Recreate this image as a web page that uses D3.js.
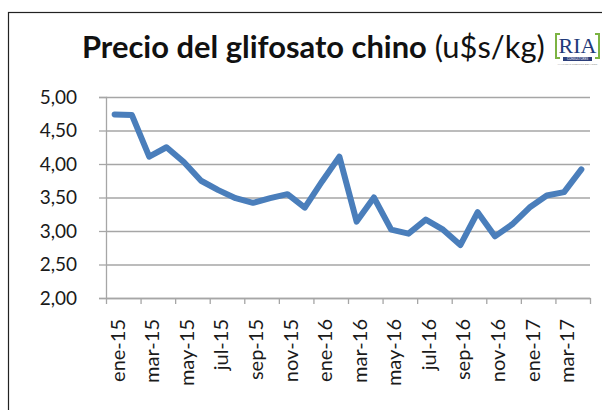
<!DOCTYPE html>
<html>
<head>
<meta charset="utf-8">
<script src="https://cdn.jsdelivr.net/npm/d3@7"></script>
<style>
  body { margin: 0; background: #fff; }
  svg { display: block; font-family: Lato, "Open Sans", sans-serif; }
</style>
</head>
<body>
<div id="chart"></div>
<script>
// Monthly price, ene-15 .. abr-17
const months = ["ene-15","feb-15","mar-15","abr-15","may-15","jun-15","jul-15","ago-15","sep-15","oct-15","nov-15","dic-15",
                "ene-16","feb-16","mar-16","abr-16","may-16","jun-16","jul-16","ago-16","sep-16","oct-16","nov-16","dic-16",
                "ene-17","feb-17","mar-17","abr-17"];
const prices = [4.74, 4.73, 4.11, 4.25, 4.03, 3.75, 3.61, 3.49, 3.42, 3.49, 3.55, 3.35,
                3.74, 4.11, 3.14, 3.50, 3.02, 2.96, 3.17, 3.02, 2.79, 3.28, 2.92, 3.10,
                3.35, 3.53, 3.58, 3.92];
const yTicks = [2.0, 2.5, 3.0, 3.5, 4.0, 4.5, 5.0];

const W = 602, H = 410;
const margin = {top: 97, right: 12, bottom: 112, left: 106};
const width = 590 - margin.left;
const height = 298 - margin.top;

const svg = d3.select("#chart").append("svg")
    .attr("width", W)
    .attr("height", H);

// chart frame (runs off the right/bottom of the picture)
svg.append("rect")
    .attr("x", 8.5).attr("y", 12.5)
    .attr("width", W + 20).attr("height", H + 20)
    .attr("fill", "none")
    .attr("stroke", "#222")
    .attr("stroke-width", 1.2);

// title
const title = svg.append("text")
    .attr("x", 82).attr("y", 58)
    .attr("fill", "#111")
    .style("font-family", "Lato, sans-serif")
    .style("font-size", "26px");
title.append("tspan").attr("font-weight", "bold").text("Precio del glifosato chino");
title.append("tspan").attr("font-weight", "normal").text(" (u$s/kg)");
// fit title width to ~463px
const tl = title.node().getComputedTextLength();
title.style("font-size", (26 * 463 / tl) + "px");

// logo
const logo = svg.append("g").attr("transform", "translate(555,33)");
logo.append("path")
    .attr("d", "M5,1 H1 V25 H5")
    .attr("fill", "none").attr("stroke", "#7cb342").attr("stroke-width", 2);
logo.append("path")
    .attr("d", "M40,1 H44 V25 H40")
    .attr("fill", "none").attr("stroke", "#7cb342").attr("stroke-width", 2);
logo.append("text")
    .attr("x", 22.5).attr("y", 20)
    .attr("text-anchor", "middle")
    .attr("fill", "#1f3a7a")
    .style("font-family", "'Liberation Serif', 'DejaVu Serif', serif")
    .style("font-size", "22px")
    .text("RIA");
logo.append("rect")
    .attr("x", 8).attr("y", 24).attr("width", 29).attr("height", 4)
    .attr("fill", "#2c3e7a");
logo.append("text")
    .attr("x", 22.5).attr("y", 27.3)
    .attr("text-anchor", "middle")
    .attr("fill", "#fff")
    .style("font-size", "3px")
    .text("CONSULTORES");
logo.append("text")
    .attr("x", 22.5).attr("y", 32)
    .attr("text-anchor", "middle")
    .attr("fill", "#888")
    .style("font-size", "2.6px")
    .text("ANALISTAS PUBLICOS DEL AGRO");

const g = svg.append("g")
    .attr("transform", `translate(${margin.left},${margin.top})`);

const x = d3.scaleBand()
    .domain(months)
    .range([0, width])
    .padding(0);

const xEdge = d3.scaleLinear()
    .domain([0, months.length])
    .range([0, width]);

const y = d3.scaleLinear()
    .domain([2, 5])
    .range([height, 0]);

// gridlines
g.append("g")
    .call(d3.axisRight(y).tickValues(yTicks).tickSize(width).tickFormat(""))
    .call(s => s.select(".domain").remove())
    .call(s => s.selectAll("line").attr("stroke", "#a6a6a6").attr("stroke-width", 1.3));

// y axis
const yAxis = g.append("g")
    .call(d3.axisLeft(y)
        .tickValues(yTicks)
        .tickSize(7)
        .tickPadding(22)
        .tickFormat(d => d3.format(".2f")(d).replace(".", ",")));
yAxis.select(".domain").attr("stroke", "#a6a6a6").attr("stroke-width", 1.3);
yAxis.selectAll("line").attr("stroke", "#a6a6a6").attr("stroke-width", 1.3);
yAxis.selectAll("text")
    .attr("fill", "#1a1a1a")
    .style("font-family", "Lato, sans-serif")
    .style("font-size", "19px");

// x axis (ticks between categories, every second one)
const xAxis = g.append("g")
    .attr("transform", `translate(0,${height})`)
    .call(d3.axisBottom(xEdge)
        .tickValues(d3.range(0, months.length + 1, 2))
        .tickSize(6)
        .tickSizeOuter(0)
        .tickFormat(""));
xAxis.select(".domain").attr("stroke", "#a6a6a6").attr("stroke-width", 1.3);
xAxis.selectAll("line").attr("stroke", "#a6a6a6").attr("stroke-width", 1.3);

g.append("g")
    .selectAll("text")
    .data(months.filter((d, i) => i % 2 === 0))
    .enter()
    .append("text")
    .attr("transform", d => `translate(${x(d) + x.bandwidth() / 2 + 3},${height + 21}) rotate(-90)`)
    .attr("text-anchor", "end")
    .attr("dy", "0.35em")
    .attr("fill", "#1a1a1a")
    .style("font-family", "Lato, sans-serif")
    .style("font-size", "20px")
    .text(d => d);

// price line
const line = d3.line()
    .x((d, i) => x(months[i]) + x.bandwidth() / 2)
    .y(d => y(d));

g.append("path")
    .datum(prices)
    .attr("d", line)
    .attr("fill", "none")
    .attr("stroke", "#4a7ebb")
    .attr("stroke-width", 6)
    .attr("stroke-linejoin", "round")
    .attr("stroke-linecap", "round");
</script>
</body>
</html>
